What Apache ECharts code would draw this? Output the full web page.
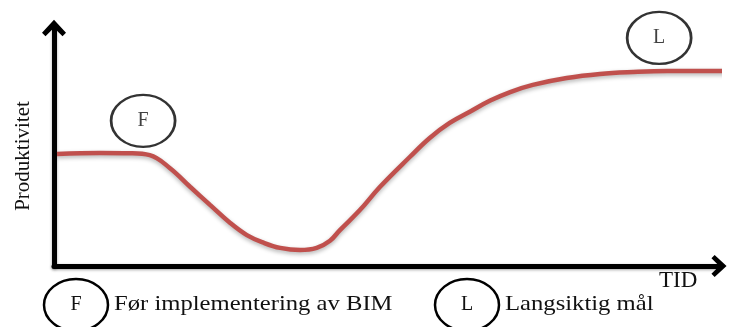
<!DOCTYPE html>
<html>
<head>
<meta charset="utf-8">
<script src="https://cdn.jsdelivr.net/npm/echarts@6/dist/echarts.min.js"></script>
<style>
html,body{margin:0;padding:0;background:#fff;}
#chart{width:729px;height:327px;}
</style>
</head>
<body>
<div id="chart"></div>
<script>
// Time (0-100) and productivity (0-100)
const timeValues = [0.45, 6.9, 11.4, 14.4, 17.4, 20.5, 23.5, 26.5, 29.0, 31.5, 34.0, 37.0, 39.5, 41.5, 43.0, 46.0, 49.0, 53.5, 56.5, 59.5, 62.6, 65.6, 68.6, 72.0, 77.1, 82.1, 87.1, 92.2, 101.5];
const productivity = [47.1, 47.5, 47.4, 46.6, 41.2, 33.2, 25.6, 18.1, 13.0, 9.8, 7.6, 6.7, 7.6, 10.6, 15.1, 23.5, 33.2, 45.8, 53.8, 60.1, 64.9, 69.5, 73.1, 76.1, 79.0, 80.7, 81.5, 81.9, 81.9];
// Annotation markers on the curve
const markerLabels = ['F', 'L'];
const markerTime = [13.4, 91.0];
const markerLevel = [61.0, 95.8];
// Legend texts
const legendKeys = ['F', 'L'];
const legendTexts = ['Før implementering av BIM', 'Langsiktig mål'];
const xAxisTitle = 'TID';
const yAxisTitle = 'Produktivitet';

const serif = "'Liberation Serif', 'DejaVu Serif', serif";
const ellipsePath = 'path://M0,50a50,50 0 1,0 100,0a50,50 0 1,0 -100,0z';
const chevron = 'path://M0,13 L12,0 L24,13 L20.5,16.5 L12,8 L3.5,16.5 Z';

const chart = echarts.init(document.getElementById('chart'), null, {renderer: 'canvas'});

const axisLineStyle = {color: '#000', width: 5, shadowColor: 'rgba(0,0,0,0.35)', shadowBlur: 3, shadowOffsetY: 1};

const legendX = [76, 467];
const graphics = [];
legendKeys.forEach((k, i) => {
  graphics.push({
    type: 'ellipse', shape: {cx: legendX[i], cy: 305, rx: 32, ry: 26},
    style: {fill: 'none', stroke: '#000', lineWidth: 2.5}, silent: true
  });
  graphics.push({
    type: 'text', x: legendX[i], y: 305,
    style: {text: k, font: "20px " + serif, fill: '#111', align: 'center', verticalAlign: 'middle'}
  });
  graphics.push({
    type: 'text', x: legendX[i] + 38, y: 304, scaleX: 1.12,
    style: {text: legendTexts[i], font: "22px " + serif, fill: '#111', align: 'left', verticalAlign: 'middle'}
  });
});

const option = {
  animation: false,
  backgroundColor: '#fff',
  grid: {left: 54, right: 10, top: 28, bottom: 61, outerBoundsMode: 'none'},
  xAxis: {
    type: 'value', min: 0, max: 100,
    name: xAxisTitle, nameLocation: 'end', nameGap: -60,
    nameTextStyle: {fontFamily: serif, fontSize: 23, color: '#111', align: 'left', verticalAlign: 'top', padding: [3, 0, 0, 0]},
    axisLine: {show: true, onZero: false, lineStyle: axisLineStyle, symbol: ['none', chevron], symbolSize: [22, 17]},
    axisTick: {show: false}, axisLabel: {show: false}, splitLine: {show: false}
  },
  yAxis: {
    type: 'value', min: 0, max: 100,
    name: yAxisTitle, nameLocation: 'middle', nameRotate: 90, nameGap: 20,
    nameTextStyle: {fontFamily: serif, fontSize: 21, color: '#111', padding: [0, 18, 0, 0]},
    axisLine: {show: true, onZero: false, lineStyle: axisLineStyle, symbol: ['none', chevron], symbolSize: [24, 19]},
    axisTick: {show: false}, axisLabel: {show: false}, splitLine: {show: false}
  },
  series: [
    {
      type: 'line',
      data: timeValues.map((t, i) => [t, productivity[i]]),
      smooth: 0.4,
      showSymbol: false,
      clip: false,
      silent: true,
      lineStyle: {color: '#c0504d', width: 4.5, shadowColor: 'rgba(0,0,0,0.3)', shadowBlur: 4, shadowOffsetY: 2}
    },
    {
      type: 'scatter',
      data: markerLabels.map((l, i) => ({value: [markerTime[i], markerLevel[i]], name: l})),
      symbol: ellipsePath,
      symbolSize: [64, 52],
      clip: false,
      silent: true,
      itemStyle: {color: 'rgba(0,0,0,0)', borderColor: '#000', borderWidth: 2.5},
      label: {show: true, position: 'inside', formatter: p => p.name, fontFamily: serif, fontSize: 20, color: '#111'}
    }
  ],
  graphic: graphics
};
chart.setOption(option);
</script>
</body>
</html>
